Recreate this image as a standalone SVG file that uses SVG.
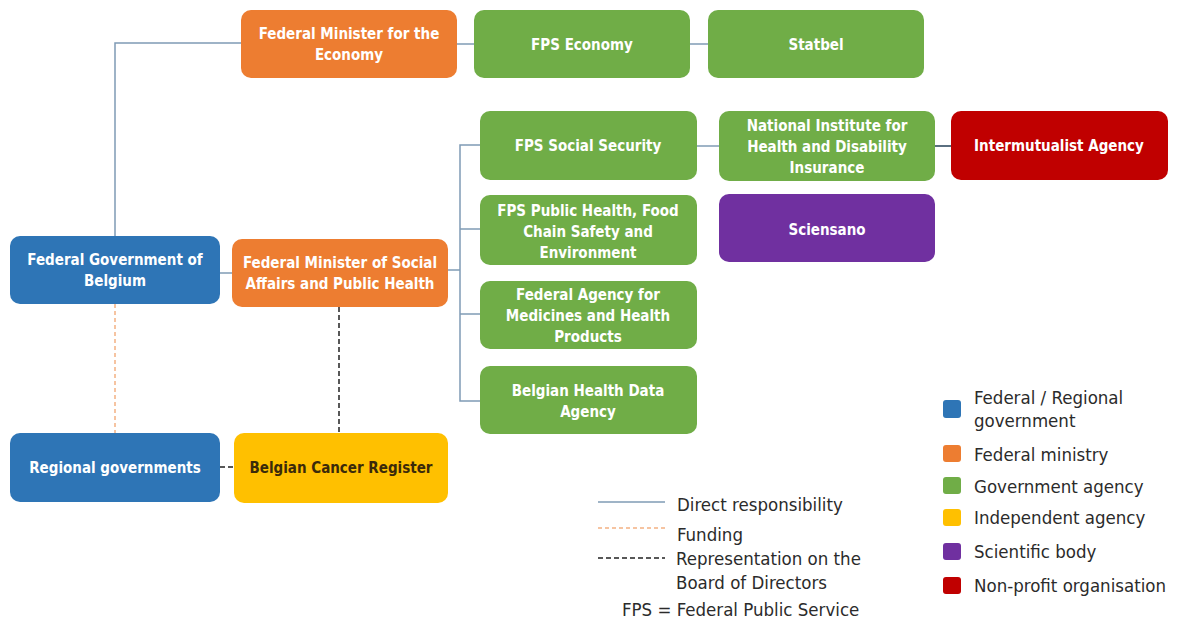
<svg xmlns="http://www.w3.org/2000/svg" width="1179" height="620" viewBox="0 0 1179 620">
  <style>
    .box { stroke: none; }
    .blue { fill: #2e75b6; }
    .orange { fill: #ed7d31; }
    .green { fill: #70ad47; }
    .yellow { fill: #ffc000; }
    .purple { fill: #7030a0; }
    .red { fill: #c00000; }
    .lbl { font-family: "DejaVu Sans Condensed", "Liberation Sans", sans-serif; font-size: 15px; font-weight: bold; fill: #ffffff; text-anchor: middle; }
    .dark { fill: #3b2a0a; }
    .direct { stroke: #7f9bb5; stroke-width: 1.5; fill: none; }
    .direct2 { stroke: #5a6f80; stroke-width: 2; fill: none; }
    .funding { stroke: #f4b183; stroke-width: 1.5; fill: none; stroke-dasharray: 4 3; }
    .board { stroke: #222222; stroke-width: 1.5; fill: none; stroke-dasharray: 5 3; }
    .legend { font-family: "DejaVu Sans Condensed", "Liberation Sans", sans-serif; font-size: 18.5px; fill: #2b2b2b; }
  </style>
  <rect width="1179" height="620" fill="#ffffff"/>

  <!-- connectors -->
  <g id="connectors">
    <path class="direct" d="M115 236 V43 H241"/>
    <path class="direct" d="M457 44 H474"/>
    <path class="direct" d="M690 44 H708"/>
    <path class="direct" d="M220 273 H232"/>
    <path class="direct" d="M448 270 H460"/>
    <path class="direct" d="M480 145 H460 V401 H480"/>
    <path class="direct" d="M460 229 H480"/>
    <path class="direct" d="M460 314 H480"/>
    <path class="direct" d="M697 146 H719"/>
    <path class="direct2" d="M935 146 H951"/>
    <path class="funding" d="M115 304 V433"/>
    <path class="board" d="M339 307 V433"/>
    <path class="board" d="M220 467 H234"/>
  </g>

  <!-- nodes -->
  <g id="fm-economy">
    <rect class="box orange" x="241" y="10" width="216" height="68" rx="10"/>
    <text class="lbl" x="349" y="39">Federal Minister for the</text>
    <text class="lbl" x="349" y="60">Economy</text>
  </g>
  <g id="fps-economy">
    <rect class="box green" x="474" y="10" width="216" height="68" rx="10"/>
    <text class="lbl" x="582" y="50">FPS Economy</text>
  </g>
  <g id="statbel">
    <rect class="box green" x="708" y="10" width="216" height="68" rx="10"/>
    <text class="lbl" x="816" y="50">Statbel</text>
  </g>
  <g id="federal-government">
    <rect class="box blue" x="10" y="236" width="210" height="68" rx="10"/>
    <text class="lbl" x="115" y="265">Federal Government of</text>
    <text class="lbl" x="115" y="286">Belgium</text>
  </g>
  <g id="fm-social">
    <rect class="box orange" x="232" y="239" width="216" height="68" rx="10"/>
    <text class="lbl" x="340" y="268">Federal Minister of Social</text>
    <text class="lbl" x="340" y="289">Affairs and Public Health</text>
  </g>
  <g id="fps-social-security">
    <rect class="box green" x="480" y="111" width="217" height="69" rx="10"/>
    <text class="lbl" x="588" y="151">FPS Social Security</text>
  </g>
  <g id="inami">
    <rect class="box green" x="719" y="111" width="216" height="70" rx="10"/>
    <text class="lbl" x="827" y="131">National Institute for</text>
    <text class="lbl" x="827" y="152">Health and Disability</text>
    <text class="lbl" x="827" y="173">Insurance</text>
  </g>
  <g id="intermutualist">
    <rect class="box red" x="951" y="111" width="217" height="69" rx="10"/>
    <text class="lbl" x="1059" y="151">Intermutualist Agency</text>
  </g>
  <g id="fps-public-health">
    <rect class="box green" x="480" y="195" width="217" height="70" rx="10"/>
    <text class="lbl" x="588" y="216">FPS Public Health, Food</text>
    <text class="lbl" x="588" y="237">Chain Safety and</text>
    <text class="lbl" x="588" y="258">Environment</text>
  </g>
  <g id="sciensano">
    <rect class="box purple" x="719" y="194" width="216" height="68" rx="10"/>
    <text class="lbl" x="827" y="235">Sciensano</text>
  </g>
  <g id="famhp">
    <rect class="box green" x="480" y="281" width="217" height="68" rx="10"/>
    <text class="lbl" x="588" y="300">Federal Agency for</text>
    <text class="lbl" x="588" y="321">Medicines and Health</text>
    <text class="lbl" x="588" y="342">Products</text>
  </g>
  <g id="health-data">
    <rect class="box green" x="480" y="366" width="217" height="68" rx="10"/>
    <text class="lbl" x="588" y="396">Belgian Health Data</text>
    <text class="lbl" x="588" y="417">Agency</text>
  </g>
  <g id="regional-governments">
    <rect class="box blue" x="10" y="433" width="210" height="69" rx="10"/>
    <text class="lbl" x="115" y="473">Regional governments</text>
  </g>
  <g id="cancer-register">
    <rect class="box yellow" x="234" y="433" width="214" height="70" rx="10"/>
    <text class="lbl dark" x="341" y="473">Belgian Cancer Register</text>
  </g>

  <!-- line legend -->
  <g id="line-legend">
    <path class="direct" d="M598 502 H665"/>
    <path class="funding" d="M598 528 H665" stroke-width="1"/>
    <path class="board" d="M598 558 H665"/>
    <text class="legend" x="677" y="511">Direct responsibility</text>
    <text class="legend" x="677" y="541">Funding</text>
    <text class="legend" x="676" y="565">Representation on the</text>
    <text class="legend" x="676" y="589">Board of Directors</text>
    <text class="legend" x="622" y="616">FPS = Federal Public Service</text>
  </g>

  <!-- colour legend -->
  <g id="colour-legend">
    <rect class="blue" x="943" y="400" width="18" height="18" rx="3"/>
    <rect class="orange" x="943" y="445" width="18" height="17" rx="3"/>
    <rect class="green" x="943" y="477" width="18" height="17" rx="3"/>
    <rect class="yellow" x="943" y="509" width="18" height="17" rx="3"/>
    <rect class="purple" x="943" y="543" width="18" height="17" rx="3"/>
    <rect class="red" x="943" y="577" width="18" height="17" rx="3"/>
    <text class="legend" x="974" y="404">Federal / Regional</text>
    <text class="legend" x="974" y="427">government</text>
    <text class="legend" x="974" y="461">Federal ministry</text>
    <text class="legend" x="974" y="493">Government agency</text>
    <text class="legend" x="974" y="524">Independent agency</text>
    <text class="legend" x="974" y="558">Scientific body</text>
    <text class="legend" x="974" y="592">Non-profit organisation</text>
  </g>
</svg>
